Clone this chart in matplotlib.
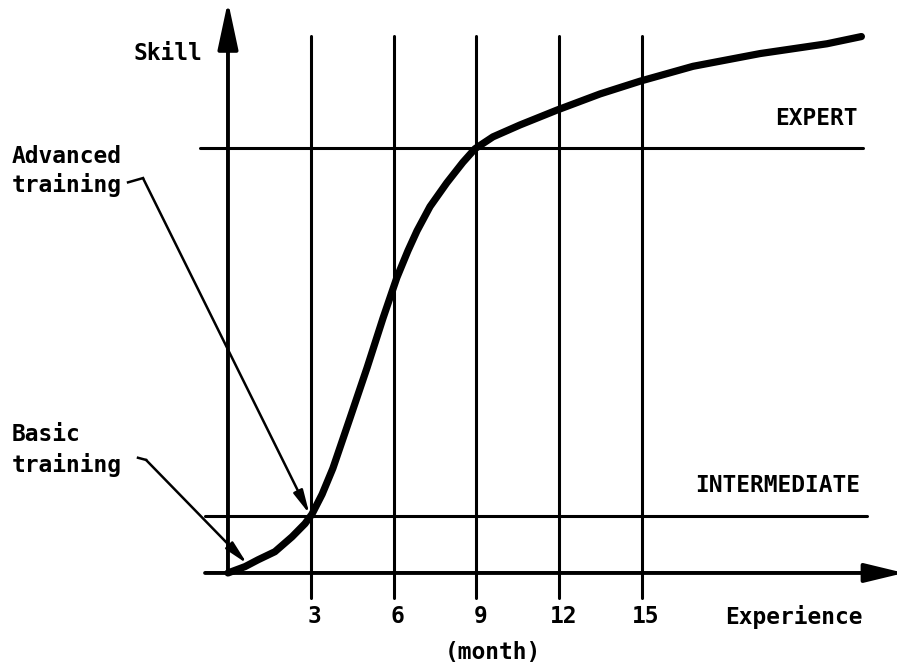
import matplotlib
matplotlib.use("Agg")
import matplotlib.pyplot as plt

# ---- data ----
months = [0.0, 0.62, 1.09, 1.70, 2.32, 2.79, 3.04, 3.41, 3.80, 4.42, 5.04, 5.62, 6.12, 6.52,
          6.85, 7.32, 7.93, 8.51, 8.95, 9.60, 10.58, 11.92, 13.48, 14.93, 16.85, 19.28, 21.70, 22.95]
skill = [0.0, 0.15, 0.31, 0.50, 0.85, 1.16, 1.38, 1.85, 2.46, 3.64, 4.83, 6.00, 6.95, 7.58,
         8.05, 8.62, 9.18, 9.66, 9.98, 10.26, 10.54, 10.89, 11.27, 11.57, 11.92, 12.22, 12.45, 12.62]
grid_months = [3, 6, 9, 12, 15]
tick_labels = ["3", "6", "9", "12", "15"]
intermediate_level = 1.34
expert_level = 10.0

FONT = "DejaVu Sans Mono"
FS = 16.5

fig = plt.figure(figsize=(8.97, 6.72), dpi=100)
ax = fig.add_axes([0, 0, 1, 1])
ax.set_xlim(-8.26, 24.24)
ax.set_ylim(-2.33, 13.48)
ax.axis("off")

lw_grid = 2.2
# vertical grid lines
for m in grid_months:
    ax.plot([m, m], [-0.59, 12.64], color="black", lw=lw_grid, solid_capstyle="round")

# level lines
ax.plot([-1.0, 23.0], [expert_level, expert_level], color="black", lw=lw_grid, solid_capstyle="round")
ax.plot([-0.83, 23.15], [intermediate_level, intermediate_level], color="black", lw=lw_grid,
        solid_capstyle="round")

# axes with arrows
ax.annotate("", xy=(0, 13.45), xytext=(0, 0), annotation_clip=False,
            arrowprops=dict(arrowstyle="-|>,head_length=2.9,head_width=0.62", mutation_scale=10,
                            lw=2.8, color="black", shrinkA=0, shrinkB=0))
ax.annotate("", xy=(24.5, 0), xytext=(-0.83, 0), annotation_clip=False,
            arrowprops=dict(arrowstyle="-|>,head_length=2.4,head_width=0.58", mutation_scale=10,
                            lw=2.8, color="black", shrinkA=0, shrinkB=0))

# the skill curve
ax.plot(months, skill, color="black", lw=5.2, solid_capstyle="round", solid_joinstyle="round")

# tick labels
for m, lab in zip(grid_months, tick_labels):
    ax.text(m + 0.15, -1.03, lab, family=FONT, fontweight="bold", fontsize=FS,
            ha="center", va="center")

ax.text(23.0, -1.03, "Experience", family=FONT, fontweight="bold", fontsize=FS,
        ha="right", va="center")
ax.text(9.6, -1.88, "(month)", family=FONT, fontweight="bold", fontsize=FS,
        ha="center", va="center")
ax.text(-0.95, 12.22, "Skill", family=FONT, fontweight="bold", fontsize=FS,
        ha="right", va="center")
ax.text(22.8, 10.7, "EXPERT", family=FONT, fontweight="bold", fontsize=FS,
        ha="right", va="center")
ax.text(22.9, 2.05, "INTERMEDIATE", family=FONT, fontweight="bold", fontsize=FS,
        ha="right", va="center")

ax.text(-7.83, 9.79, "Advanced", family=FONT, fontweight="bold", fontsize=FS, ha="left", va="center")
ax.text(-7.83, 9.13, "training", family=FONT, fontweight="bold", fontsize=FS, ha="left", va="center")
ax.text(-7.83, 3.25, "Basic", family=FONT, fontweight="bold", fontsize=FS, ha="left", va="center")
ax.text(-7.83, 2.54, "training", family=FONT, fontweight="bold", fontsize=FS, ha="left", va="center")

# leader lines
ax.plot([-3.62, -3.08], [9.19, 9.29], color="black", lw=1.8)
ax.annotate("", xy=(2.95, intermediate_level + 0.05), xytext=(-3.08, 9.29),
            arrowprops=dict(arrowstyle="-|>,head_length=1.4,head_width=0.3", mutation_scale=10,
                            lw=1.8, color="black", shrinkA=0, shrinkB=0))
ax.plot([-3.26, -2.97], [2.71, 2.66], color="black", lw=1.8)
ax.annotate("", xy=(0.69, 0.22), xytext=(-2.97, 2.66),
            arrowprops=dict(arrowstyle="-|>,head_length=1.4,head_width=0.3", mutation_scale=10,
                            lw=1.8, color="black", shrinkA=0, shrinkB=0))

fig.savefig("out.png", dpi=100)
